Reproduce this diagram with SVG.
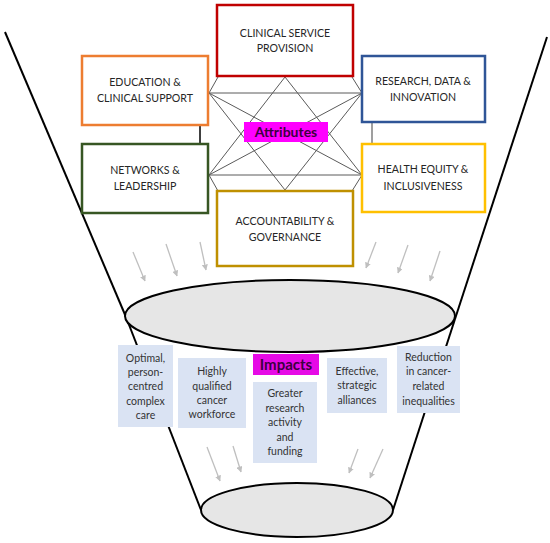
<svg xmlns="http://www.w3.org/2000/svg" width="550" height="543" viewBox="0 0 550 543">
<defs>
<style>
.box{fill:#ffffff;stroke-width:2.5}
.t{font-family:Lato,"Liberation Sans",sans-serif;font-size:10.6px;fill:#262626;text-anchor:middle}
.it{font-family:Lato,"Liberation Sans",sans-serif;font-size:10.5px;fill:#333333;text-anchor:middle}
.imp{fill:#dae3f3}
.net{stroke:#5a5a5a;stroke-width:1;fill:none}
.fun{stroke:#000000;stroke-width:2;fill:none}
.arr{stroke:#bfbfbf;stroke-width:1.3;fill:none;marker-end:url(#ah)}
.lab{font-family:Lato,"Liberation Sans",sans-serif;font-weight:bold;fill:#3c0040;text-anchor:middle}
</style>
<marker id="ah" viewBox="0 0 10 10" refX="9" refY="5" markerWidth="6" markerHeight="6" orient="auto" markerUnits="userSpaceOnUse">
<path d="M0,0 L10,5 L0,10 z" fill="#bfbfbf"/>
</marker>
</defs>
<rect width="550" height="543" fill="#ffffff"/>
<g id="funnel">
<line class="fun" x1="5" y1="32" x2="126" y2="317"/>
<line class="fun" x1="547" y1="37" x2="455" y2="319"/>
<line class="fun" x1="126" y1="317" x2="201" y2="510"/>
<line class="fun" x1="455" y1="319" x2="393" y2="510"/>
<ellipse cx="290" cy="316" rx="165" ry="36" fill="#e6e6e6" stroke="#000" stroke-width="2"/>
<ellipse cx="297" cy="510" rx="96" ry="27" fill="#e6e6e6" stroke="#000" stroke-width="2"/>
</g>
<g id="connectors">
<line class="net" x1="209" y1="93" x2="362" y2="93"/>
<line class="net" x1="209" y1="175" x2="362" y2="175"/>
<line class="net" x1="285" y1="77" x2="209" y2="175"/>
<line class="net" x1="285" y1="77" x2="362" y2="175"/>
<line class="net" x1="285" y1="190" x2="209" y2="93"/>
<line class="net" x1="285" y1="190" x2="362" y2="93"/>
<line class="net" x1="209" y1="93" x2="362" y2="175"/>
<line class="net" x1="209" y1="175" x2="362" y2="93"/>
<line class="net" x1="218" y1="77" x2="209" y2="93"/>
<line class="net" x1="352" y1="77" x2="362" y2="93"/>
<line class="net" x1="209" y1="175" x2="218" y2="191"/>
<line class="net" x1="362" y1="175" x2="352" y2="191"/>
<line x1="200" y1="125" x2="200" y2="144" stroke="#000" stroke-width="1.5"/>
<line x1="372" y1="122" x2="372" y2="144" stroke="#7f7f7f" stroke-width="1.5"/>
<line class="arr" x1="133" y1="252" x2="145" y2="281"/>
<line class="arr" x1="166" y1="244" x2="177" y2="276"/>
<line class="arr" x1="200" y1="242" x2="206" y2="270"/>
<line class="arr" x1="376" y1="242" x2="366" y2="268"/>
<line class="arr" x1="408" y1="245" x2="398" y2="273"/>
<line class="arr" x1="440" y1="251" x2="430" y2="281"/>
<line class="arr" x1="207" y1="447" x2="220" y2="481"/>
<line class="arr" x1="233" y1="446" x2="241" y2="472"/>
<line class="arr" x1="358" y1="449" x2="349" y2="473"/>
<line class="arr" x1="383" y1="449" x2="370" y2="478"/>
</g>
<g id="attributes-label">
<rect x="244" y="122" width="84" height="20" fill="#ff00ff"/>
<text class="lab" x="286" y="137" font-size="14">Attributes</text>
</g>
<g id="clinical-service">
<rect class="box" x="217" y="5" width="136" height="71" stroke="#c00000"/>
<text class="t" x="285" y="37">CLINICAL SERVICE</text>
<text class="t" x="285" y="52">PROVISION</text>
</g>
<g id="education">
<rect class="box" x="82" y="56" width="126" height="69" stroke="#ed7d31"/>
<text class="t" x="145" y="86">EDUCATION &amp;</text>
<text class="t" x="145" y="102">CLINICAL SUPPORT</text>
</g>
<g id="networks">
<rect class="box" x="82" y="144" width="126" height="69" stroke="#375623"/>
<text class="t" x="145" y="174">NETWORKS &amp;</text>
<text class="t" x="145" y="190">LEADERSHIP</text>
</g>
<g id="accountability">
<rect class="box" x="217" y="191" width="136" height="75" stroke="#bf9000"/>
<text class="t" x="285" y="225">ACCOUNTABILITY &amp;</text>
<text class="t" x="285" y="241">GOVERNANCE</text>
</g>
<g id="research">
<rect class="box" x="362" y="56" width="123" height="66" stroke="#2f5597"/>
<text class="t" x="423" y="85">RESEARCH, DATA &amp;</text>
<text class="t" x="423" y="101">INNOVATION</text>
</g>
<g id="health-equity">
<rect class="box" x="362" y="144" width="123" height="68" stroke="#ffc000"/>
<text class="t" x="423" y="173">HEALTH EQUITY &amp;</text>
<text class="t" x="423" y="190">INCLUSIVENESS</text>
</g>
<g id="impact-1">
<rect class="imp" x="118" y="345" width="55" height="82"/>
<text class="it" x="145.5" y="362">Optimal,</text>
<text class="it" x="145.5" y="376">person-</text>
<text class="it" x="145.5" y="390">centred</text>
<text class="it" x="145.5" y="405">complex</text>
<text class="it" x="145.5" y="419">care</text>
</g>
<g id="impact-2">
<rect class="imp" x="178" y="358" width="68" height="70"/>
<text class="it" x="212" y="375">Highly</text>
<text class="it" x="212" y="390">qualified</text>
<text class="it" x="212" y="404">cancer</text>
<text class="it" x="212" y="418">workforce</text>
</g>
<g id="impacts-label">
<rect x="253" y="354" width="66" height="21" fill="#e60ae6"/>
<text class="lab" x="286" y="370" font-size="15">Impacts</text>
</g>
<g id="impact-3">
<rect class="imp" x="253" y="382" width="64" height="81"/>
<text class="it" x="285" y="397">Greater</text>
<text class="it" x="285" y="412">research</text>
<text class="it" x="285" y="426">activity</text>
<text class="it" x="285" y="441">and</text>
<text class="it" x="285" y="455">funding</text>
</g>
<g id="impact-4">
<rect class="imp" x="327" y="358" width="60" height="55"/>
<text class="it" x="357" y="375">Effective,</text>
<text class="it" x="357" y="389">strategic</text>
<text class="it" x="357" y="404">alliances</text>
</g>
<g id="impact-5">
<rect class="imp" x="397" y="346" width="63" height="67"/>
<text class="it" x="428.5" y="361">Reduction</text>
<text class="it" x="428.5" y="375">in cancer-</text>
<text class="it" x="428.5" y="390">related</text>
<text class="it" x="428.5" y="405">inequalities</text>
</g>
</svg>
